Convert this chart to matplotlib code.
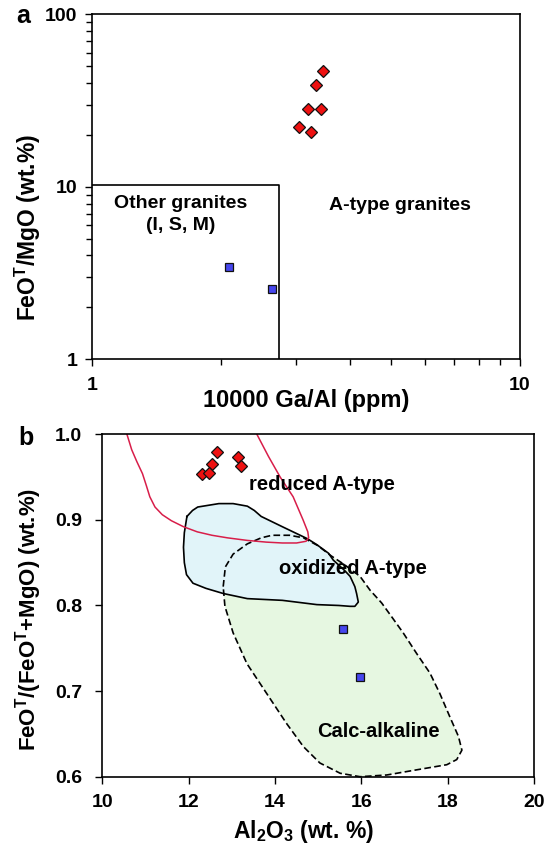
import numpy as np
import matplotlib
matplotlib.use('Agg')
import matplotlib.pyplot as plt
from matplotlib.ticker import NullFormatter, FormatStrFormatter

plt.rcParams['font.family'] = ['Liberation Sans', 'DejaVu Sans']
plt.rcParams['font.weight'] = 'bold'
plt.rcParams['axes.labelweight'] = 'bold'
plt.rcParams['mathtext.fontset'] = 'custom'
plt.rcParams['mathtext.rm'] = 'Liberation Sans:bold'
plt.rcParams['mathtext.it'] = 'Liberation Sans:bold'
plt.rcParams['mathtext.bf'] = 'Liberation Sans:bold'
plt.rcParams['mathtext.default'] = 'rm'

# ---- panel a : 10000 Ga/Al vs FeOT/MgO
ga_al_red = [3.46, 3.34, 3.20, 3.43, 3.04, 3.25]
fm_red = [47.2, 39.0, 28.3, 28.3, 22.2, 20.7]
ga_al_blue = [2.09, 2.64]
fm_blue = [3.42, 2.56]
box_ga = 2.73     # other granites field limit
box_fm = 10.2

# ---- panel b : Al2O3 vs FeOT/(FeOT+MgO)
al_red = [12.65, 13.15, 12.55, 13.21, 12.30, 12.48]
fr_red = [0.979, 0.974, 0.965, 0.963, 0.954, 0.955]
al_blue = [15.58, 15.97]
fr_blue = [0.773, 0.716]

# reduced A-type boundary (open curve)
red_x = [13.55, 13.58, 13.85, 14.12, 14.42, 14.65, 14.76, 14.78, 14.72, 14.50, 14.17, 13.80,
         13.36, 12.90, 12.54, 12.20, 11.88, 11.60, 11.39, 11.22, 11.10, 11.02, 10.93, 10.80,
         10.68, 10.57, 10.55]
red_y = [1.01, 1.0, 0.974, 0.950, 0.927, 0.900, 0.886, 0.879, 0.875, 0.873, 0.873, 0.874,
         0.876, 0.879, 0.882, 0.886, 0.892, 0.899, 0.906, 0.915, 0.927, 0.940, 0.954, 0.968,
         0.982, 1.0, 1.01]

# oxidized A-type field
oxi_x = [11.96, 12.09, 12.21, 12.70, 13.03, 13.36, 13.52, 13.68, 14.17, 14.75, 14.97, 15.24,
         15.35, 15.61, 15.74, 15.85, 15.89, 15.93, 15.85, 15.74, 15.48, 14.97, 14.17, 13.36,
         12.80, 12.40, 12.10, 11.95, 11.90, 11.88, 11.90]
oxi_y = [0.904, 0.911, 0.915, 0.919, 0.919, 0.916, 0.911, 0.904, 0.892, 0.878, 0.871, 0.861,
         0.853, 0.841, 0.834, 0.822, 0.814, 0.804, 0.799, 0.799, 0.800, 0.801, 0.806, 0.808,
         0.814, 0.820, 0.826, 0.836, 0.850, 0.868, 0.885]

# calc-alkaline field
calc_x = [12.80, 12.85, 13.03, 13.36, 13.68, 13.93, 14.34, 14.66, 14.99, 15.30, 15.60, 15.97,
          16.20, 16.47, 16.70, 16.97, 17.28, 17.59, 17.82, 18.05, 18.25, 18.33, 18.21, 17.98,
          17.28, 16.59, 15.97, 15.51, 15.04, 14.66, 14.27, 13.81, 13.35, 13.03, 12.84]
calc_y = [0.822, 0.845, 0.860, 0.872, 0.879, 0.882, 0.882, 0.879, 0.870, 0.858, 0.848, 0.834,
          0.818, 0.803, 0.787, 0.768, 0.744, 0.721, 0.697, 0.670, 0.647, 0.631, 0.620, 0.614,
          0.608, 0.602, 0.600, 0.604, 0.616, 0.635, 0.662, 0.697, 0.732, 0.768, 0.799]

red_fill = '#ee1111'
blue_fill = '#4646ee'

fig = plt.figure(figsize=(5.54, 8.47), dpi=100)
ax1 = fig.add_axes([0.1661, 0.5758, 0.7726, 0.4073])
ax2 = fig.add_axes([0.1847, 0.0830, 0.7792, 0.4043])

for ax in (ax1, ax2):
    for sp in ax.spines.values():
        sp.set_linewidth(1.2)
    ax.tick_params(which='both', direction='out', top=False, right=False, width=1, labelsize=14)
    ax.tick_params(which='major', length=5)
    ax.tick_params(which='minor', length=4)

# ---------- panel a
ax1.set_xscale('log')
ax1.set_yscale('log')
ax1.set_xlim(1, 10)
ax1.set_ylim(1, 100)
ax1.set_xticks([1, 10])
ax1.set_xticklabels(['1', '10'])
ax1.set_yticks([1, 10, 100])
ax1.set_yticklabels(['1', '10', '100'])
ax1.xaxis.set_minor_formatter(NullFormatter())
ax1.yaxis.set_minor_formatter(NullFormatter())
ax1.tick_params(axis='y', pad=5.5)
ax1.tick_params(axis='x', pad=8)

ax1.plot([1, box_ga, box_ga], [box_fm, box_fm, 1], color='black', lw=1.2)
ax1.plot(ga_al_red, fm_red, 'D', ms=6.3, mfc=red_fill, mec='#111111', mew=0.9, ls='none')
ax1.plot(ga_al_blue, fm_blue, 's', ms=6, mfc=blue_fill, mec='#111111', mew=0.9, ls='none')

ax1.text(1.61, 7.97, 'Other granites', ha='center', va='center', fontsize=14)
ax1.text(1.61, 5.97, '(I, S, M)', ha='center', va='center', fontsize=14)
ax1.text(5.23, 7.8, 'A-type granites', ha='center', va='center', fontsize=14)

ax1.set_xlabel('10000 Ga/Al (ppm)', fontsize=17, va='center')
ax1.xaxis.set_label_coords(0.5, -0.118)
ax1.set_ylabel(r'FeO$^\mathrm{T}$/MgO (wt.%)', fontsize=16.5, va='center')
ax1.yaxis.set_label_coords(-0.15, 0.383)

# ---------- panel b
ax2.set_xlim(10, 20)
ax2.set_ylim(0.6, 1.0)
ax2.set_xticks(np.arange(10, 21, 2))
ax2.set_yticks([0.6, 0.7, 0.8, 0.9, 1.0])
ax2.yaxis.set_major_formatter(FormatStrFormatter('%.1f'))
ax2.tick_params(axis='y', pad=9.4)
ax2.tick_params(axis='x', pad=7.2)

ax2.fill(calc_x, calc_y, color='#e6f7e1', lw=0, zorder=1)
ax2.fill(oxi_x, oxi_y, color='#e1f4f9', lw=0, zorder=1.5)
ax2.plot(calc_x + calc_x[:1], calc_y + calc_y[:1], color='black', lw=1.2,
         dashes=(4, 2), zorder=2, clip_on=False)
ax2.plot(oxi_x + oxi_x[:1], oxi_y + oxi_y[:1], color='black', lw=1.2, zorder=2)
ax2.plot(red_x, red_y, color='#d81e4a', lw=1.1, zorder=2)

ax2.plot(al_red, fr_red, 'D', ms=6.5, mfc=red_fill, mec='#111111', mew=0.9, ls='none', zorder=3)
ax2.plot(al_blue, fr_blue, 's', ms=6.3, mfc=blue_fill, mec='#111111', mew=0.9, ls='none', zorder=3)

ax2.text(15.09, 0.941, 'reduced A-type', ha='center', va='center', fontsize=14.5, zorder=4)
ax2.text(15.81, 0.843, 'oxidized A-type', ha='center', va='center', fontsize=14.5, zorder=4)
ax2.text(16.39, 0.653, 'Calc-alkaline', ha='center', va='center', fontsize=14.5, zorder=4)

ax2.set_xlabel(r'Al$_\mathrm{2}$O$_\mathrm{3}$ (wt. %)', fontsize=16.5, va='center')
ax2.xaxis.set_label_coords(0.466, -0.161)
ax2.set_ylabel(r'FeO$^\mathrm{T}$/(FeO$^\mathrm{T}$+MgO) (wt.%)', fontsize=16, va='center')
ax2.yaxis.set_label_coords(-0.172, 0.458)

fig.text(23.3 / 554, 1 - 22.7 / 847, 'a', fontsize=18, ha='center', va='baseline')
fig.text(25.5 / 554, 1 - 445 / 847, 'b', fontsize=18, ha='center', va='baseline')

fig.savefig('out.png', dpi=100)
